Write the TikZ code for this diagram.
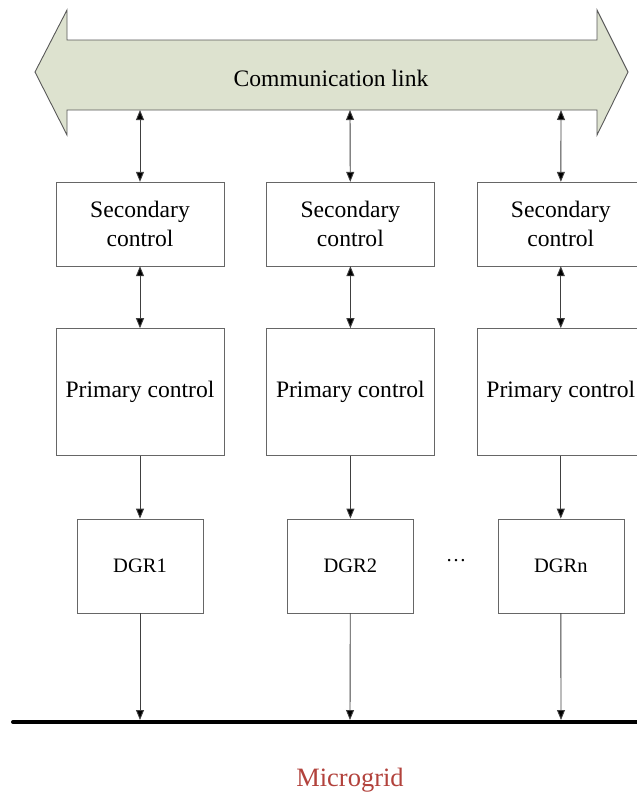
\documentclass[tikz,border=0pt]{standalone}
\usepackage{fontspec}
\setmainfont{Liberation Serif}
\usetikzlibrary{arrows.meta, positioning}
\definecolor{linkfill}{RGB}{221,226,207}
\definecolor{gridred}{RGB}{178,66,60}
\tikzset{
  ctrl/.style={rectangle, draw=black!60, align=center, inner sep=2pt, minimum width=168pt},
  sec/.style={ctrl, minimum height=84pt},
  prim/.style={ctrl, minimum height=127pt},
  dgr/.style={rectangle, draw=black!60, minimum width=126pt, minimum height=94pt, font=\fontsize{20.5}{24}\selectfont},
  line/.style={draw=black!75, line width=0.9pt, -{Triangle[length=10pt, width=8pt, fill=black]}},
  bothway/.style={line, {Triangle[length=10pt, width=8pt, fill=black]}-{Triangle[length=10pt, width=8pt, fill=black]}}
}

\begin{document}
\begin{tikzpicture}[x=1pt, y=-1pt, font=\fontsize{23.6}{29}\selectfont]
    \clip (0,0) rectangle (637,796);
    % communication link
    \draw[fill=linkfill, draw=black!65, line width=0.9pt]
      (67,40) -- (67,10) -- (35,72) -- (67,135) -- (67,110) -- (597,110)
      -- (597,135) -- (628,72) -- (597,10) -- (597,40) -- cycle;
    \node (link) at (331,78) {Communication link};
    \coordinate (c1) at (140,110);
    \coordinate (c2) at (350,110);
    \coordinate (c3) at (561,110);
    % controllers
    \node[sec] (s1) at (140,224) {Secondary\\control};
    \node[sec, right=42pt of s1] (s2) {Secondary\\control};
    \node[sec, right=42pt of s2] (s3) {Secondary\\control};
    \node[prim, below=62pt of s1] (p1) {Primary control};
    \node[prim, below=62pt of s2] (p2) {Primary control};
    \node[prim, below=62pt of s3] (p3) {Primary control};
    \node[dgr, below=63pt of p1] (g1) {DGR1};
    \node[dgr, below=63pt of p2] (g2) {DGR2};
    \node[dgr, below=63pt of p3] (g3) {DGRn};
    \node[font=\fontsize{20.5}{24}\selectfont] (dots) at (456,561) {\dots};
    % bus
    \coordinate (busL) at (13,722);
    \coordinate (busR) at (640,722);
    \coordinate (b1) at (140,720);
    \coordinate (b2) at (350,720);
    \coordinate (b3) at (561,720);
    \draw[line width=4pt, line cap=round] (busL) -- (busR);
    \node[text=gridred, font=\fontsize{26.5}{30}\selectfont] (mg) at (350,780) {Microgrid};
    % connectors
    \draw[bothway] (c1) -- (s1);
    \draw[bothway] (c2) -- (s2);
    \draw[bothway] (c3) -- (s3);
    \draw[bothway] (s1) -- (p1);
    \draw[bothway] (s2) -- (p2);
    \draw[bothway] (s3) -- (p3);
    \draw[line] (p1) -- (g1);
    \draw[line] (p2) -- (g2);
    \draw[line] (p3) -- (g3);
    \draw[line] (g1) -- (b1);
    \draw[line] (g2) -- (b2);
    \draw[line] (g3) -- (b3);
  \end{tikzpicture}
\end{document}
